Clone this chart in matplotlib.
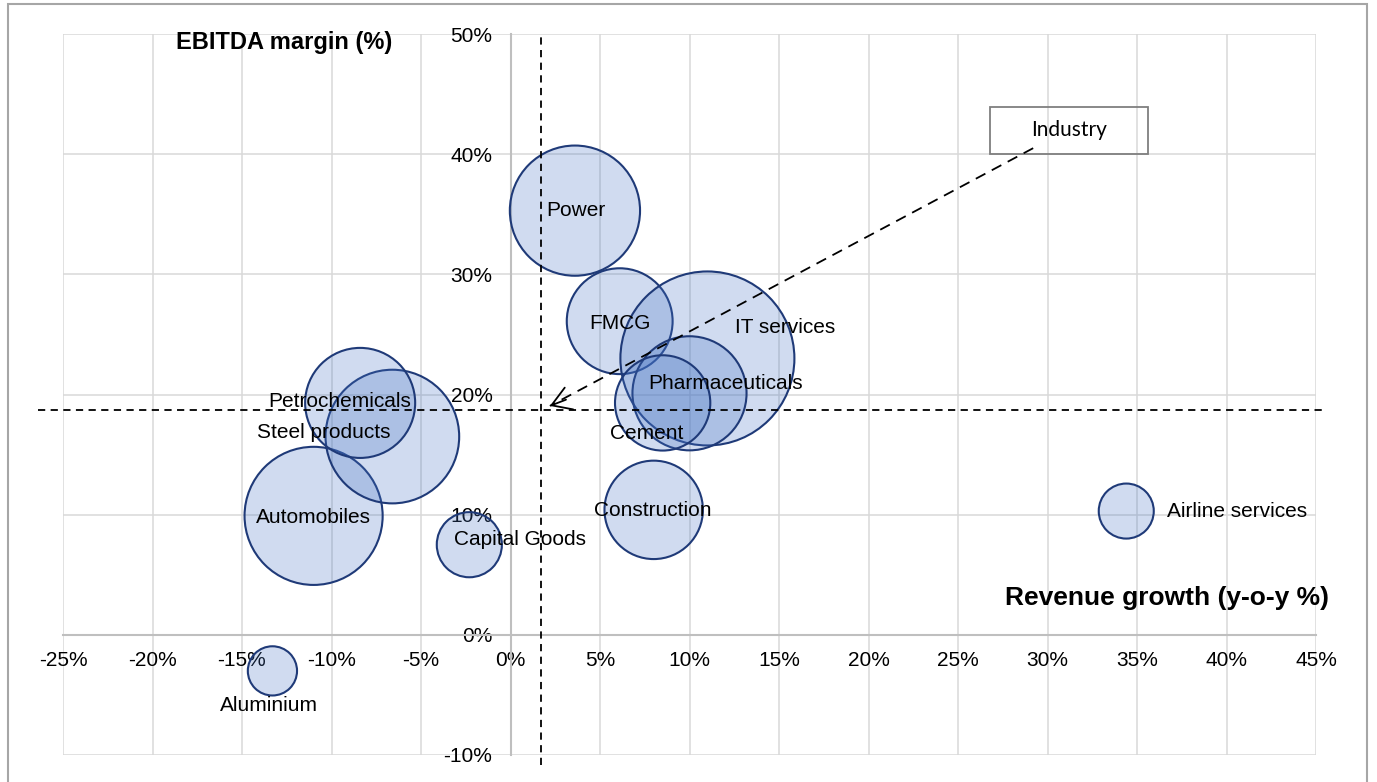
import matplotlib.pyplot as plt
from matplotlib.patches import Rectangle
from matplotlib.ticker import FuncFormatter

# sector bubbles: revenue growth (y-o-y %), EBITDA margin (%), relative bubble size
sectors = ["Power", "FMCG", "IT services", "Pharmaceuticals", "Cement", "Construction",
           "Airline services", "Capital Goods", "Aluminium", "Automobiles",
           "Steel products", "Petrochemicals"]
revenue_growth = [3.6, 6.1, 11.0, 10.0, 8.5, 8.0, 34.4, -2.3, -13.3, -11.0, -6.6, -8.4]
ebitda_margin = [35.3, 26.1, 23.0, 20.1, 19.3, 10.4, 10.3, 7.5, -3.0, 9.9, 16.5, 19.3]
bubble_size = [56, 37, 100, 43, 30, 32, 10, 14, 8, 63, 59, 40]

# industry average (the dashed cross-hair)
industry_growth = 1.7
industry_margin = 18.7

x_ticks = list(range(-25, 50, 5))
y_ticks = list(range(-10, 60, 10))

# label placement, in pixels relative to the bubble centre
label_offset = {
    "Power": (1, 0), "FMCG": (0, -2), "IT services": (78, 31),
    "Pharmaceuticals": (36, 10), "Cement": (-16, -31), "Construction": (-1, -1),
    "Airline services": (41, 0), "Capital Goods": (51, 5), "Aluminium": (-3, -35),
    "Automobiles": (0, -2), "Steel products": (-69, 4), "Petrochemicals": (-20, 1),
}

FONT = "Liberation Sans"
W, H = 1377, 782

fig = plt.figure(figsize=(W / 100, H / 100), dpi=100)
ax = fig.add_axes([63 / W, (H - 755) / H, 1253 / W, 721 / H])

ax.set_xlim(-25, 45)
ax.set_ylim(-10, 50)
ax.set_xticks(x_ticks)
ax.set_yticks(y_ticks)
pct = FuncFormatter(lambda v, _: f"{v:.0f}%")
ax.xaxis.set_major_formatter(pct)
ax.yaxis.set_major_formatter(pct)
ax.grid(True, color="#d9d9d9", lw=1.1, zorder=0)
ax.set_axisbelow(True)
for gl in ax.get_xgridlines() + ax.get_ygridlines():
    gl.set_clip_on(False)

for side in ("top", "right"):
    ax.spines[side].set_visible(False)
for side in ("left", "bottom"):
    ax.spines[side].set_position(("data", 0))
    ax.spines[side].set_color("#bfbfbf")
    ax.spines[side].set_linewidth(1.5)
ax.tick_params(axis="both", length=0, labelsize=15)
ax.tick_params(axis="x", pad=12)
ax.tick_params(axis="y", pad=13)
for lab in ax.get_xticklabels() + ax.get_yticklabels():
    lab.set_fontfamily(FONT)

# bubbles: area proportional to size, largest ~87 px radius
s_max = (2 * 87 * 72 / 100) ** 2
sizes = [v / max(bubble_size) * s_max for v in bubble_size]
ax.scatter(revenue_growth, ebitda_margin, s=sizes,
           facecolors=[(0.267, 0.447, 0.769, 0.25)], edgecolors="#1f3a78",
           linewidths=1.5, zorder=3, clip_on=False)

for name, gx, my in zip(sectors, revenue_growth, ebitda_margin):
    dx, dy = label_offset[name]
    ha = "left" if name == "Airline services" else "center"
    ax.annotate(name, (gx, my), xytext=(dx, dy), textcoords="offset pixels",
                ha=ha, va="center", fontsize=15, family=FONT, zorder=6)

# industry cross-hair
ax.plot([industry_growth, industry_growth], [-10.8, 50], ls=(0, (4, 3)),
        color="black", lw=1.3, zorder=5, clip_on=False)
ax.plot([-26.4, 45.4], [industry_margin, industry_margin], ls=(0, (4, 3)),
        color="black", lw=1.3, zorder=5, clip_on=False)

# "Industry" call-out box with dashed arrow
ax.add_patch(Rectangle((26.8, 40.0), 8.8, 3.9, fill=False, edgecolor="#7f7f7f",
                       lw=1.3, zorder=5, clip_on=False))
ax.text(31.2, 42.0, "Industry", ha="center", va="center", fontsize=15,
        family="Lato", zorder=6)
tip = (industry_growth + 0.5, industry_margin + 0.35)
start = (29.2, 40.5)
ax.plot([start[0], tip[0]], [start[1], tip[1]], ls=(0, (6, 4)), color="black",
        lw=1.3, zorder=5)
ax.annotate("", xy=tip, xytext=(tip[0] + 0.9, tip[1] + 0.52),
            arrowprops=dict(arrowstyle="->,head_length=0.45,head_width=0.28",
                            color="black", lw=1.3, mutation_scale=30,
                            shrinkA=0, shrinkB=0), zorder=5)

# axis titles inside the plot
ax.text(-18.7, 49.3, "EBITDA margin (%)", ha="left", va="center", fontsize=17,
        fontweight="bold", family=FONT)
ax.text(45.7, 3.1, "Revenue growth (y-o-y %)", ha="right", va="center", fontsize=19,
        fontweight="bold", family=FONT)

# outer chart frame (bottom edge runs off the picture)
fig.patches.append(Rectangle((8 / W, -0.05), (1367 - 8) / W, 1.05 - 4 / H,
                             transform=fig.transFigure, fill=False,
                             edgecolor="#a6a6a6", lw=1.5))

fig.savefig("out.png", dpi=100)
